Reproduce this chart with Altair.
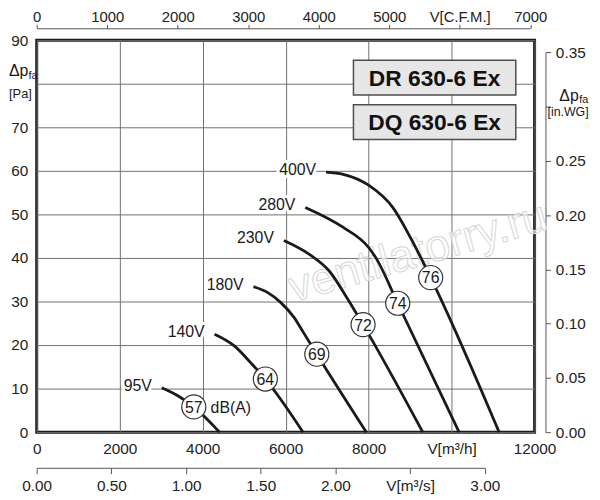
import altair as alt
import pandas as pd

W, H = 503, 396
FONT = "Liberation Sans"
INK = "#1a1a1a"

# ---------------- data ----------------
# fan curves: V [m3/h] -> static pressure [Pa]
v95_x = [3014, 3412, 3786, 4406]
v95_y = [10.2, 8.3, 5.8, 0.0]
v140_x = [4287, 4764, 5161, 5511, 6420]
v140_y = [22.5, 19.8, 15.9, 12.2, 0.0]
v180_x = [5225, 5560, 5878, 6197, 6434, 6751, 7945]
v180_y = [33.4, 32.1, 29.8, 26.4, 22.8, 17.9, 0.0]
v230_x = [5957, 6590, 7050, 7468, 7866, 9305]
v230_y = [44.0, 40.7, 37.0, 31.0, 24.7, 0.0]
v280_x = [6473, 7389, 8000, 8183, 8701, 10180]
v280_y = [51.6, 47.0, 42.4, 39.9, 29.6, 0.0]
v400_x = [6974, 7389, 7999, 8581, 9018, 9495, 11145]
v400_y = [59.7, 59.2, 56.7, 51.6, 44.5, 35.5, 0.0]

curve_labels = ["95V", "140V", "180V", "230V", "280V", "400V"]
curve_xs = [v95_x, v140_x, v180_x, v230_x, v280_x, v400_x]
curve_ys = [v95_y, v140_y, v180_y, v230_y, v280_y, v400_y]

# sound level markers
db_values = [57, 64, 69, 72, 74, 76]
db_x = [3786, 5511, 6751, 7866, 8701, 9495]
db_y = [5.8, 12.2, 17.9, 24.7, 29.6, 35.5]
db_unit = ["dB(A)"]

model_names = ["DR 630-6 Ex", "DQ 630-6 Ex"]
watermark = ["ventilatorry.ru"]

x_ticks = [0, 2000, 4000, 6000, 8000, 10000, 12000]
y_ticks = [0, 10, 20, 30, 40, 50, 60, 70, 80, 90]
cfm_ticks = [0, 1000, 2000, 3000, 4000, 5000, 6000, 7000]
m3s_ticks = [0, 0.5, 1.0, 1.5, 2.0, 2.5, 3.0]
inwg_ticks = [0, 0.05, 0.10, 0.15, 0.20, 0.25, 0.30, 0.35]

M3H_PER_CFM = 1.69901
PA_PER_INWG = 249.089

# ---------------- tables ----------------
rows = []
for name, xs, ys in zip(curve_labels, curve_xs, curve_ys):
    for i, (xv, yv) in enumerate(zip(xs, ys)):
        rows.append({"curve": name, "i": i, "v": xv, "p": yv})
curves_df = pd.DataFrame(rows)
starts_df = pd.DataFrame({"curve": curve_labels,
                          "v": [xs[0] for xs in curve_xs],
                          "p": [ys[0] for ys in curve_ys]})
db_df = pd.DataFrame({"db": db_values, "v": db_x, "p": db_y})
unit_df = pd.DataFrame({"t": db_unit, "v": db_x[:1], "p": db_y[:1]})

xs_main = alt.Scale(domain=[0, 12000], nice=False, zero=True)
ys_main = alt.Scale(domain=[0, 90], nice=False, zero=True)

X = alt.X("v:Q", scale=xs_main, axis=alt.Axis(
    values=x_ticks, format="d", grid=True, domain=False, ticks=False,
    labelPadding=10, title=None, labelFlush=False,
    labelExpr="datum.value == 10000 ? 'V[m³/h]' : datum.label"))
Y = alt.Y("p:Q", scale=ys_main, axis=alt.Axis(
    values=y_ticks, format="d", grid=True, domain=False, ticks=False,
    labelPadding=9, title=None, labelFlush=False,
    labelExpr="datum.value == 80 ? '' : datum.label"))

wm = alt.Chart(pd.DataFrame({"t": watermark})).mark_text(
    font=FONT, fontSize=45, angle=344, fill="white", fillOpacity=0.6,
    stroke="#d6d6d6", strokeWidth=1, align="center", baseline="middle"
).encode(x=alt.datum(9186), y=alt.datum(41.3), text="t:N")

lines = alt.Chart(curves_df).mark_line(
    color=INK, strokeWidth=2.8, interpolate="monotone"
).encode(x=X, y=Y, detail="curve:N", order="i:Q")

halo = alt.Chart(starts_df).mark_text(
    font=FONT, fontSize=16, align="right", baseline="middle", dx=-10, dy=-2,
    color="white", stroke="white", strokeWidth=6, strokeJoin="round"
).encode(x="v:Q", y="p:Q", text="curve:N")
labels = alt.Chart(starts_df).mark_text(
    font=FONT, fontSize=16, align="right", baseline="middle", dx=-10, dy=-2,
    color=INK
).encode(x="v:Q", y="p:Q", text="curve:N")

circles = alt.Chart(db_df).mark_point(
    shape="circle", size=590, filled=True, fill="white", stroke="#333333",
    strokeWidth=1.2, opacity=1
).encode(x="v:Q", y="p:Q")
circle_txt = alt.Chart(db_df).mark_text(
    font=FONT, fontSize=16, align="center", baseline="middle", dy=1, color=INK
).encode(x="v:Q", y="p:Q", text="db:N")
unit_txt = alt.Chart(unit_df).mark_text(
    font=FONT, fontSize=16, align="left", baseline="middle", dx=17, dy=1, color=INK
).encode(x="v:Q", y="p:Q", text="t:N")

box_layers = []
for name, (top, bot) in zip(model_names, [(85.4, 77.4), (75.2, 67.2)]):
    d = pd.DataFrame({"t": [name]})
    box_layers.append(alt.Chart(d).mark_rect(
        fill="#e6e6e6", stroke="#4d4d4d", strokeWidth=1.5
    ).encode(x=alt.datum(7634), x2=alt.datum(11547), y=alt.datum(top), y2=alt.datum(bot)))
    box_layers.append(alt.Chart(d).mark_text(
        font=FONT, fontSize=23, fontWeight="bold", color="#111111",
        align="center", baseline="middle", dy=1
    ).encode(x=alt.datum(9590), y=alt.datum((top + bot) / 2), text="t:N"))


def ann(txt, px, py, size, align="left"):
    return alt.Chart(pd.DataFrame({"t": [txt]})).mark_text(
        font=FONT, fontSize=size, align=align, baseline="alphabetic", color=INK
    ).encode(x=alt.value(px), y=alt.value(py), text="t:N")


titles = [
    ann("Δp", -28, 35.8, 16), ann("fa", -8.2, 39.3, 11), ann("[Pa]", -28, 58.0, 13),
    ann("Δp", 528, 61.0, 16), ann("fa", 548.2, 63.8, 11), ann("[in.WG]", 516, 76.8, 12.5),
]

main = alt.layer(wm, lines, halo, labels, circles, circle_txt, unit_txt,
                 *box_layers, *titles)

axis_style = dict(domainColor="#555555", tickColor="#555555", domainWidth=1,
                  tickWidth=1, grid=False, title=None, labelFlush=False)

cfm_axis = alt.Chart(pd.DataFrame({"cfm": [0, 7000]})).mark_point(opacity=0).encode(
    x=alt.X("cfm:Q",
            scale=alt.Scale(domain=[0, 7000], range=[0, W * 7000 * M3H_PER_CFM / 12000], nice=False),
            axis=alt.Axis(orient="top", values=cfm_ticks, format="d", offset=12,
                          tickSize=4, labelPadding=0, labelFontSize=15,
                          labelExpr="datum.value == 6000 ? 'V[C.F.M.]' : datum.label",
                          **axis_style)),
    y=alt.value(0))

m3s_axis = alt.Chart(pd.DataFrame({"m3s": [0, 3]})).mark_point(opacity=0).encode(
    x=alt.X("m3s:Q",
            scale=alt.Scale(domain=[0, 3], range=[0, W * 3 * 3600 / 12000], nice=False),
            axis=alt.Axis(orient="bottom", values=m3s_ticks, format=".2f", offset=36,
                          tickSize=6, labelPadding=5,
                          labelExpr="datum.value == 2.5 ? 'V[m³/s]' : datum.label",
                          **axis_style)),
    y=alt.value(H))

inwg_axis = alt.Chart(pd.DataFrame({"inwg": [0, 0.35]})).mark_point(opacity=0).encode(
    y=alt.Y("inwg:Q",
            scale=alt.Scale(domain=[0, 0.35],
                            range=[H, H - H * 0.35 * PA_PER_INWG / 90], nice=False),
            axis=alt.Axis(orient="right", values=inwg_ticks, format=".2f", offset=11,
                          tickSize=5, labelPadding=5,
                          labelExpr="abs(datum.value - 0.3) < 0.001 ? '' : datum.label",
                          **axis_style)),
    x=alt.value(W))

chart = alt.layer(main, cfm_axis, m3s_axis, inwg_axis).resolve_scale(
    x="independent", y="independent"
).properties(
    width=W, height=H,
    autosize=alt.AutoSizeParams(type="none"),
    padding={"left": 29, "top": 30, "right": 58, "bottom": 64},
).configure_view(
    stroke=INK, strokeWidth=3
).configure_axis(
    labelFont=FONT, labelFontSize=15.5, labelColor="#222222",
    gridColor="#707070", gridWidth=1
)

chart.save("out.html", embed_options={"renderer": "svg", "actions": False})
